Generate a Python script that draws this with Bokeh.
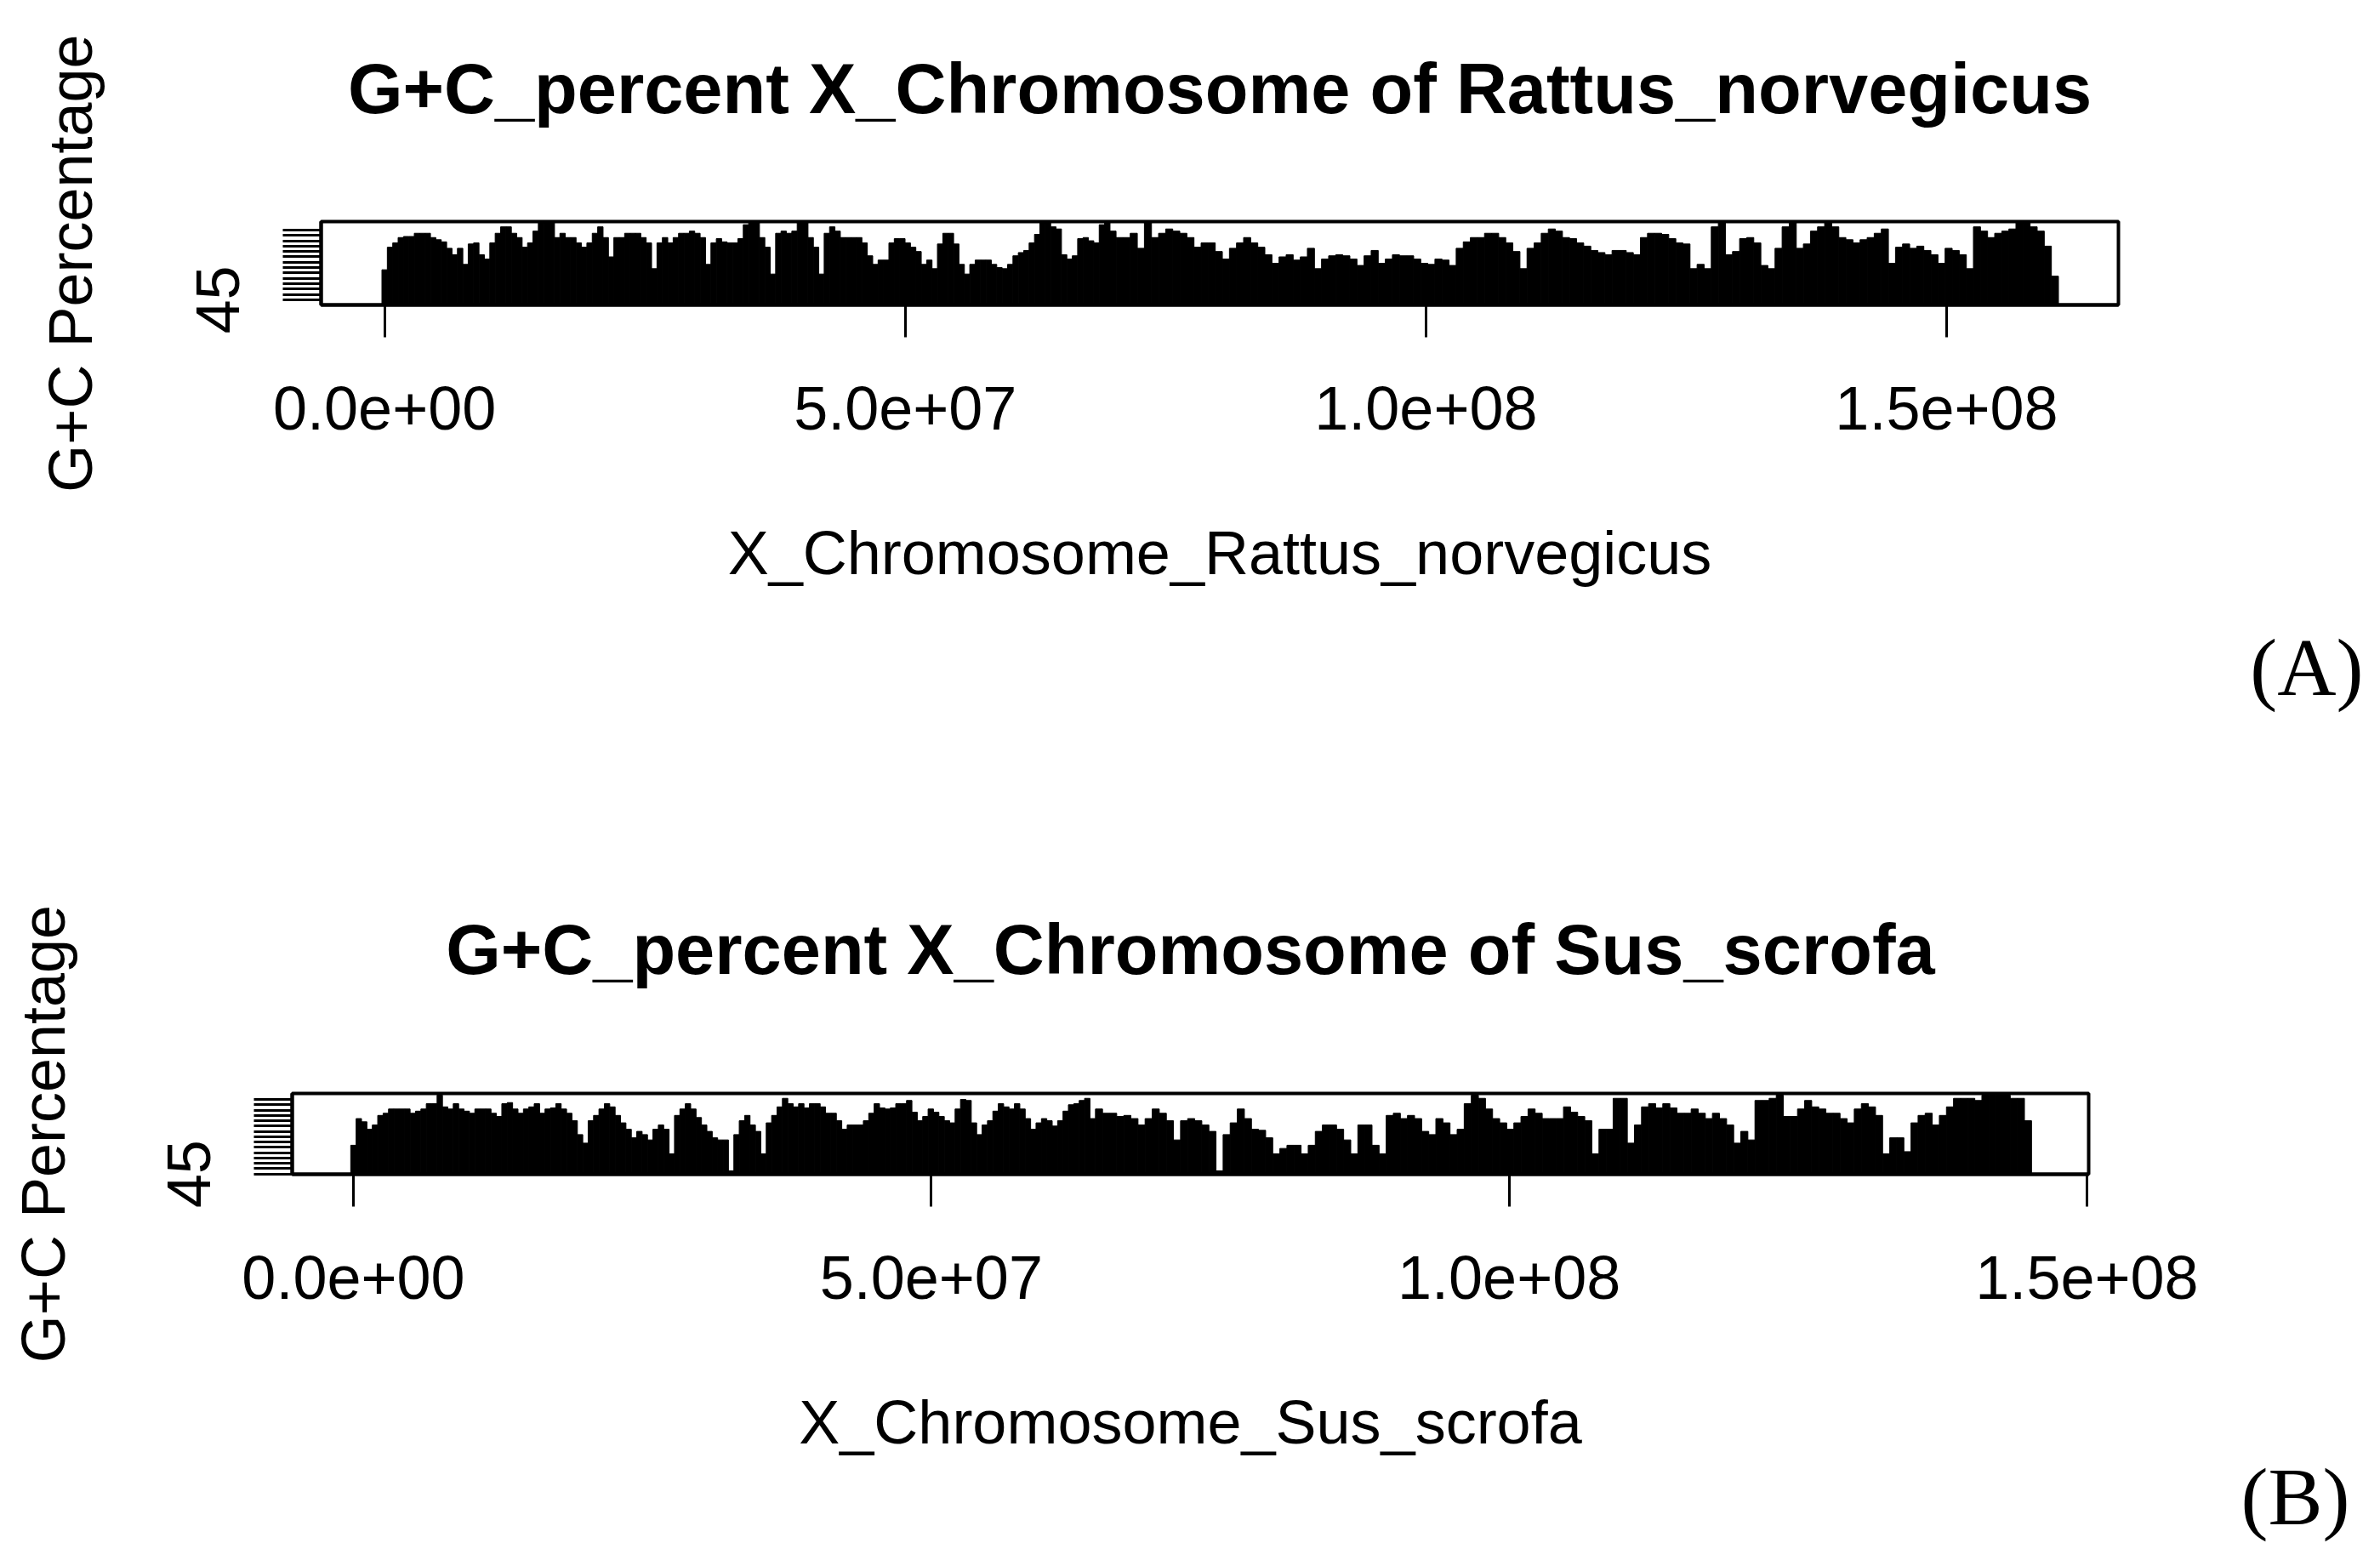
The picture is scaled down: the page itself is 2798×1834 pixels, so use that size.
import numpy as np
from bokeh.plotting import figure
from bokeh.models import ColumnDataSource, FixedTicker, Range1d, Title
from bokeh.embed import file_html
from bokeh.resources import INLINE

# ---------------- data ----------------
x_ticks = [0, 50000000, 100000000, 150000000]
x_tick_labels = ["0.0e+00", "5.0e+07", "1.0e+08", "1.5e+08"]

# Rattus norvegicus X chromosome, G+C percent per window
rat_seg1_start, rat_seg1_end = 0.0, 69.4e6
rat_seg1_gc = [
    47.8, 49.9, 50.3, 50.8, 50.9, 50.9, 51.2, 51.2, 51.2, 50.8,
    50.6, 50.4, 49.8, 49.2, 49.8, 48.3, 50.2, 50.3, 49.2, 48.8,
    50.3, 51.2, 51.8, 51.8, 51.2, 50.8, 49.9, 50.3, 51.4, 52.2,
    52.2, 52.2, 50.8, 51.2, 50.8, 50.8, 50.3, 49.9, 50.3, 51.2,
    51.8, 50.8, 49.0, 50.8, 50.8, 51.2, 51.2, 51.2, 50.8, 50.3,
    47.9, 50.3, 50.8, 50.3, 50.8, 51.2, 51.2, 51.4, 51.2, 50.8,
    48.3, 50.3, 50.7, 50.4, 50.3, 50.3, 50.7, 52.0, 52.2, 52.2,
    50.8, 49.9, 47.4, 51.2, 51.4, 51.2, 51.4, 52.2, 52.2, 50.8,
    49.9, 47.4, 51.2, 51.8, 51.4, 50.8, 50.8, 50.8, 50.8, 50.3,
    49.1, 48.3, 48.7, 48.7, 50.3, 50.7, 50.7, 50.3, 49.9, 49.5,
    48.3, 48.7, 47.9, 50.2, 51.2, 51.2, 50.2, 48.3, 47.4, 48.3,
    48.7, 48.7, 48.7, 48.3, 48.0, 47.9, 48.3, 49.1, 49.4, 49.6,
    50.3, 51.1, 52.2, 52.2, 51.8, 51.6, 49.2, 48.8, 49.1, 50.7,
    50.8, 50.5, 50.3, 52.0, 52.2,
]
rat_seg2_start, rat_seg2_end = 69.9e6, 160.4e6
rat_seg2_gc = [
    51.4, 50.8, 50.8, 51.2, 49.8, 52.2, 50.8, 51.2, 51.6, 51.4,
    51.2, 50.8, 49.9, 50.3, 50.3, 49.5, 48.8, 49.8, 50.3, 50.8,
    50.3, 49.9, 49.2, 48.4, 49.0, 49.2, 48.7, 49.0, 49.8, 47.9,
    48.8, 49.1, 49.2, 49.1, 48.8, 48.2, 49.1, 49.6, 48.4, 48.8,
    49.2, 49.1, 49.1, 48.8, 48.4, 48.3, 48.8, 48.7, 48.2, 49.8,
    50.4, 50.8, 50.8, 51.2, 51.2, 50.8, 50.3, 49.5, 47.9, 49.8,
    50.3, 51.2, 51.6, 51.4, 50.8, 50.7, 50.3, 50.0, 49.6, 49.4,
    49.2, 49.6, 49.6, 49.4, 49.2, 50.8, 51.2, 51.2, 51.1, 50.7,
    50.3, 50.2, 47.9, 48.3, 47.9, 51.8, 52.2, 49.2, 49.5, 50.7,
    50.8, 50.3, 48.2, 47.9, 49.8, 51.8, 52.2, 49.8, 50.2, 51.4,
    51.8, 52.2, 51.8, 50.8, 50.6, 50.3, 50.6, 50.8, 51.2, 51.6,
    48.4, 49.9, 50.2, 49.8, 50.0, 49.6, 49.2, 48.4, 49.8, 49.6,
    49.2, 47.9, 51.8, 51.4, 50.8, 51.2, 51.4, 51.6, 52.2, 52.2,
    51.8, 51.4, 50.0, 47.2,
]
rat_y_ticks = [45.0, 45.5, 46.0, 46.5, 47.0, 47.5, 48.0, 48.5, 49.0, 49.5,
               50.0, 50.5, 51.0, 51.5]

# Sus scrofa X chromosome, G+C percent per window
pig_seg1_start, pig_seg1_end = 0.0, 63.5e6
pig_seg1_gc = [
    47.7, 50.2, 49.9, 49.2, 49.6, 50.5, 50.7, 51.1, 51.1, 51.1,
    51.1, 50.7, 50.9, 51.1, 51.6, 51.6, 52.4, 51.3, 51.1, 51.6,
    51.1, 50.9, 50.7, 51.1, 51.1, 51.1, 50.7, 50.4, 51.6, 51.7,
    51.1, 50.7, 51.1, 51.3, 51.6, 50.7, 51.1, 51.2, 51.6, 51.1,
    50.7, 50.0, 48.7, 47.9, 50.0, 50.5, 51.1, 51.6, 51.3, 50.5,
    49.8, 49.2, 48.4, 49.0, 48.7, 48.2, 49.2, 49.6, 49.2, 46.9,
    50.5, 51.1, 51.6, 51.1, 50.3, 49.6, 49.0, 48.4, 48.2, 48.2,
    45.3, 48.7, 50.0, 50.5, 49.6, 49.0, 46.9, 49.8, 50.5, 51.3,
    52.1, 51.6, 51.3, 51.6, 51.2, 51.6, 51.6, 51.3, 50.7, 50.7,
    50.0, 49.2, 49.6, 49.6, 49.6, 50.0, 50.7, 51.6, 51.2, 51.1,
    51.2, 51.6, 51.6, 51.9, 50.8, 50.0, 50.4, 51.1, 50.8, 50.4,
    50.0, 49.8, 51.1, 52.0, 51.9, 49.8, 48.7, 49.6, 50.0, 50.9,
    51.6, 51.3, 51.1, 51.6, 51.1, 50.2, 49.2, 49.8, 50.2, 50.0,
    49.5, 50.0, 50.9, 51.5, 51.6, 51.9, 52.1,
]
pig_seg2_start, pig_seg2_end = 63.9e6, 144.9e6
pig_seg2_gc = [
    50.2, 51.1, 50.7, 50.7, 50.4, 50.5, 50.2, 49.6, 50.2, 51.1,
    50.7, 50.0, 48.2, 50.0, 50.2, 50.0, 49.6, 49.0, 45.3, 48.7,
    49.8, 51.1, 50.2, 49.2, 49.1, 48.4, 46.9, 47.4, 47.7, 47.7,
    46.9, 47.7, 49.0, 49.6, 49.6, 49.2, 48.2, 46.9, 49.6, 49.6,
    47.7, 46.9, 50.5, 50.7, 50.2, 50.5, 50.2, 49.0, 48.7, 50.2,
    49.8, 48.7, 49.2, 51.6, 52.4, 52.1, 51.1, 50.2, 49.8, 49.2,
    49.8, 50.4, 51.1, 50.7, 50.2, 50.2, 50.2, 51.3, 50.8, 50.4,
    50.0, 46.9, 49.2, 49.2, 52.1, 52.1, 47.9, 49.6, 51.3, 51.6,
    51.2, 51.6, 51.2, 50.7, 50.7, 51.1, 50.7, 50.2, 50.7, 50.2,
    49.6, 47.9, 49.0, 48.2, 51.9, 51.9, 52.1, 52.4, 50.4, 50.4,
    51.1, 51.9, 51.3, 51.1, 50.7, 50.7, 50.2, 49.8, 51.1, 51.6,
    51.3, 50.5, 46.9, 48.4, 48.4, 47.1, 49.8, 50.5, 50.7, 49.6,
    50.5, 51.3, 52.1, 52.1, 52.1, 51.9, 52.4, 52.4, 52.4, 52.4,
    52.1, 52.1, 50.0,
]
pig_y_ticks = [45.0, 45.5, 46.0, 46.5, 47.0, 47.5, 48.0, 48.5, 49.0, 49.5,
               50.0, 50.5, 51.0, 51.5, 52.0]

FONT = "Liberation Sans"
W = 2798


def series(segments):
    xs, ys, ws = [], [], []
    for start, end, vals in segments:
        pos = np.linspace(start, end, len(vals))
        step = (end - start) / (len(vals) - 1)
        xs.extend(pos)
        ys.extend(vals)
        ws.extend([step] * len(vals))
    return dict(x=xs, top=ys, w=ws)


def panel(height, borders, xr, yr, yticks, data, title, xlabel, tag,
          title_gap, tag_offset, tag_standoff, ylab_standoff):
    left, right, top, bottom = borders
    p = figure(width=W, height=height, output_backend="svg", toolbar_location=None,
               title=None,
               x_range=Range1d(*xr), y_range=Range1d(*yr),
               min_border_left=left, min_border_right=right,
               min_border_top=top, min_border_bottom=bottom)
    p.background_fill_color = "white"
    p.border_fill_color = "white"
    p.outline_line_color = "black"
    p.outline_line_width = 4
    p.xgrid.visible = False
    p.ygrid.visible = False

    src = ColumnDataSource(data)
    p.vbar(x="x", width="w", top="top", bottom=yr[0] - 5, source=src,
           fill_color="black", line_color="black", line_width=1)

    for ax in (p.xaxis[0], p.yaxis[0]):
        ax.axis_line_color = "black"
        ax.axis_line_width = 4
        ax.major_tick_line_color = "black"
        ax.major_tick_line_width = 3
        ax.major_tick_in = 0
        ax.minor_tick_line_color = None
        ax.major_label_text_font = FONT
        ax.major_label_text_font_size = "72px"
        ax.major_label_text_color = "black"
        ax.axis_label_text_font = FONT
        ax.axis_label_text_font_size = "72px"
        ax.axis_label_text_font_style = "normal"
        ax.axis_label_text_color = "black"

    xa = p.xaxis[0]
    xa.ticker = FixedTicker(ticks=x_ticks)
    xa.major_label_overrides = {t: s for t, s in zip(x_ticks, x_tick_labels)}
    xa.major_tick_out = 38
    xa.major_label_standoff = 58
    xa.axis_label = xlabel
    xa.axis_label_standoff = 102

    ya = p.yaxis[0]
    ya.ticker = FixedTicker(ticks=yticks)
    ya.major_label_overrides = {t: ("45" if t == 45.0 else "") for t in yticks}
    ya.major_label_orientation = "vertical"
    ya.major_tick_out = 45
    ya.major_label_standoff = 51
    ya.axis_label = "G+C Percentage"
    ya.axis_label_standoff = ylab_standoff

    # blank spacer between the frame and the title (white on white), then the title
    p.add_layout(Title(text=" ", text_font_size="2px", standoff=title_gap,
                       text_color="white"), "above")
    p.add_layout(Title(text=title, align="center", standoff=0,
                       text_font=FONT, text_font_size="83px", text_font_style="bold",
                       text_color="black"), "above")

    p.add_layout(Title(text=tag, align="right", offset=tag_offset, standoff=tag_standoff,
                       text_font="Liberation Serif", text_font_size="96px",
                       text_font_style="normal", text_color="black"), "below")
    return p


pa = panel(917, (377, 308, 260, 559), (-6.1e6, 166.5e6), (44.52, 52.29), rat_y_ticks,
           series([(rat_seg1_start, rat_seg1_end, rat_seg1_gc),
                   (rat_seg2_start, rat_seg2_end, rat_seg2_gc)]),
           "G+C_percent X_Chromosome of Rattus_norvegicus",
           "X_Chromosome_Rattus_norvegicus", "(A)",
           106, -288, 73, 106)

pb = panel(917, (343, 343, 368, 454), (-5.3e6, 150.15e6), (44.98, 52.56), pig_y_ticks,
           series([(pig_seg1_start, pig_seg1_end, pig_seg1_gc),
                   (pig_seg2_start, pig_seg2_end, pig_seg2_gc)]),
           "G+C_percent X_Chromosome of Sus_scrofa",
           "X_Chromosome_Sus_scrofa", "(B)",
           119, -307, -21, 104)

open("out.html", "w").write(file_html([pa, pb], INLINE))
